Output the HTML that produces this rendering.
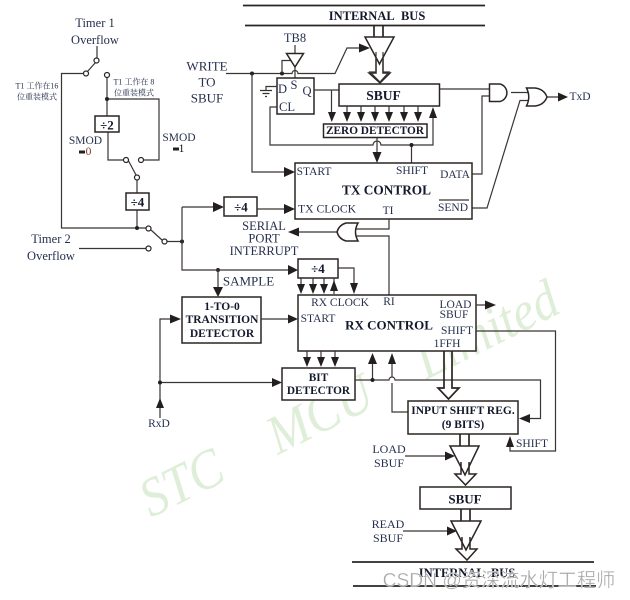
<!DOCTYPE html>
<html><head><meta charset="utf-8">
<style>
html,body{margin:0;padding:0;background:#fff;width:630px;height:600px;overflow:hidden}
svg{display:block}
text{font-family:"Liberation Serif","Noto Serif CJK SC",serif;font-size:11.5px;fill:#26304e;text-anchor:middle;dominant-baseline:central}
.b{font-weight:bold;font-size:11.5px;fill:#14182c}
.t{font-size:12.5px}
.c{font-size:8px;font-family:"Liberation Serif","Noto Serif CJK SC",serif}
.wm{font-size:55px;font-style:italic;fill:#dfeed8;text-anchor:start;dominant-baseline:auto}
.w{fill:none;stroke:#3a3432;stroke-width:1.2}
.k{fill:none;stroke:#2a2523;stroke-width:1.7}
.f{fill:#fff;stroke:#2a2523;stroke-width:1.5}
.o{fill:#fff;stroke:#2a2523;stroke-width:1.2}
.a{fill:#231f20}
</style></head><body>
<svg width="630" height="600" viewBox="0 0 630 600" xmlns="http://www.w3.org/2000/svg">
<!-- watermark -->
<text class="wm" transform="translate(151,518) rotate(-26.500) scale(.91,1)">STC</text>
<text class="wm" transform="translate(278,455) rotate(-26.500) scale(.91,1)">MCU</text>
<text class="wm" transform="translate(426,380) rotate(-26.500) scale(.91,1)">Limited</text>

<!-- top bus -->
<path class="k" d="M243 5.500H485M245 25.500H485"/>
<text class="b" x="377" y="16" style="font-size:12.500px">INTERNAL&#160;&#160;BUS</text>
<path class="k" d="M374 26V37M383 26V37"/>
<path class="f" d="M376 55V73H369L380 83L390 73H383V55"/>
<path class="f" d="M365 37H394L379.500 64Z"/>
<path class="w" d="M376 52V72H370L380 82L389 72H383V52"/>

<!-- left clock -->
<text class="t" x="95" y="23">Timer 1</text>
<text class="t" x="95" y="40">Overflow</text>
<text class="t" x="51" y="239">Timer 2</text>
<text class="t" x="51" y="256">Overflow</text>
<path class="w" d="M97 46V58M96 62L87 72M84 73.500H61.500V228H146M151 230L162 240M167 241.500H182M79 248.500H146"/>
<path class="w" d="M107 78V116M107 99H159V160H144M108 132V160H123M127 158L136 175M137 180V193M137 210V228"/>
<circle class="o" cx="96.500" cy="60.500" r="2.500"/><circle class="o" cx="86" cy="73.500" r="2.500"/>
<circle class="o" cx="107" cy="75" r="2.500"/><circle class="o" cx="141" cy="160" r="2.500"/>
<circle class="o" cx="126" cy="160" r="2.500"/><circle class="o" cx="137" cy="177.500" r="2.500"/>
<circle class="o" cx="148.500" cy="228.500" r="2.500"/><circle class="o" cx="164.500" cy="241.500" r="2.500"/>
<circle class="o" cx="148.500" cy="248.500" r="2.500"/>
<circle class="a" cx="107" cy="99" r="2"/><circle class="a" cx="137" cy="228" r="2"/><circle class="a" cx="182" cy="241.500" r="2"/><circle class="a" cx="218" cy="270" r="2"/>
<rect class="f" x="95" y="116" width="24" height="16"/>
<text class="b" x="107" y="125" style="font-size:13px">÷2</text>
<rect class="f" x="126" y="193" width="23" height="17"/>
<text class="b" x="137.500" y="202" style="font-size:13px">÷4</text>
<text class="c" x="37" y="86">T1 工作在16</text>
<text class="c" x="37" y="97">位重装模式</text>
<text class="c" x="134" y="82">T1 工作在 8</text>
<text class="c" x="134" y="93">位重装模式</text>
<text x="85.500" y="141">SMOD</text>
<rect class="a" x="79" y="150.500" width="6" height="3"/><text x="88.500" y="152" style="fill:#7a3a20">0</text>
<text x="179" y="138">SMOD</text>
<rect class="a" x="173" y="147.500" width="6" height="3"/><text x="181.500" y="149" style="fill:#111">1</text>

<path class="w" d="M182 207V270H288M182 207H215M218 270V287"/>
<path class="a" d="M213 202L224 207L213 212Z M288 265L298 270L288 275Z M213 287H223L218 297Z"/>
<rect class="f" x="224" y="197" width="33" height="19"/>
<text class="b" x="241" y="207" style="font-size:13px">÷4</text>
<text x="248.500" y="281" style="font-size:13px">SAMPLE</text>

<!-- write -->
<text x="207" y="66" style="font-size:13px">WRITE</text><text x="207" y="82" style="font-size:13px">TO</text><text x="207" y="98" style="font-size:13px">SBUF</text>
<path class="w" d="M226 73.500H292A3 3 0 0 1 298 73.500H335L347 48H360"/>
<path class="a" d="M359 43.500L370 48L359 52.500Z"/>
<circle class="a" cx="252" cy="73.500" r="2"/><circle class="a" cx="282" cy="73.500" r="2"/>
<path class="w" d="M282 73.500V60.500H291M295 45V53M295 67V78M252 73.500V172H284"/>
<path class="a" d="M284 167L295 172L284 177Z"/>
<text class="t" x="295" y="38">TB8</text>
<path class="f" d="M286.500 53.500H303.500L295 67Z"/>
<!-- flip-flop -->
<rect class="f" x="277" y="78" width="37" height="36"/>
<text class="t" x="282.500" y="89">D</text><text class="t" x="294" y="85">S</text><text class="t" x="307" y="91">Q</text><text class="t" x="287" y="107">CL</text>
<path class="w" d="M277 86.500H266V90M260 90.500H272M262.500 93.500H269.500M265 96.500H267M277 107H270V145H373A4 4 0 0 1 381 145H433V118M411.500 145V163M314 90H339M331.500 90V113M377 137V153"/>
<path class="a" d="M328 112H336L331.700 122Z M372.500 152H381.500L377 163Z M429 118H437L433 107Z"/>
<circle class="a" cx="411.500" cy="145" r="2"/>
<rect class="f" x="339" y="84" width="100.500" height="22"/>
<text class="b" x="383.500" y="95.500" style="font-size:13.500px">SBUF</text>
<path class="w" d="M347 106V113M361 106V113M375 106V113M389 106V113M404 106V113M418 106V113"/>
<path class="a" d="M343 112H351L347 122Z M357 112H365L361 122Z M371 112H379L375 122Z M385 112H393L389 122Z M400 112H408L404 122Z M414 112H422L418 122Z"/>
<rect class="f" x="323.500" y="124" width="103.500" height="13.500"/>
<text class="b" x="375" y="131" style="font-size:11.300px">ZERO DETECTOR</text>

<!-- gates -->
<path class="w" d="M439.500 89H489M472 174H482V96H489M472 208H487L520 100.500H529M511 92.500H528M547 97H558"/>
<path class="f" d="M489.500 84H500A9 9 0 0 1 500 101.500H489.500Z"/>
<path class="f" d="M526.500 88H535Q544 89 547 97Q544 105 535 106H526.500Q531 97 526.500 88Z"/>
<path class="a" d="M558 92.500L568 97L558 101.500Z"/>
<text x="580" y="97">TxD</text>

<!-- TX control -->
<rect class="f" x="295" y="163" width="177" height="56"/>
<text x="314" y="172">START</text><text x="412" y="171">SHIFT</text><text x="455" y="175">DATA</text><text x="453" y="208">SEND</text>
<path class="w" d="M439 200H469"/>
<text class="b" x="386.500" y="190" style="font-size:13.300px">TX CONTROL</text>
<text x="327" y="209" style="font-size:11.700px">TX CLOCK</text><text x="388" y="211">TI</text>
<path class="w" d="M257 209H284M389 219V229H356M356 236H389V295M337 232H299"/>
<path class="a" d="M284 204L295 209L284 214Z M299 227.500L288 232L299 236.500Z"/>
<path class="f" d="M358 223H346Q339 225 337 232Q339 239 346 241H358Q353 232 358 223Z"/>
<text x="264" y="226" style="font-size:12.500px">SERIAL</text><text x="264" y="238.500" style="font-size:12.500px">PORT</text><text x="264" y="251" style="font-size:12.500px">INTERRUPT</text>

<!-- ÷4 rx -->
<rect class="f" x="298" y="259" width="40" height="19"/>
<text class="b" x="318" y="268.500" style="font-size:13px">÷4</text>
<path class="w" d="M301 278V284M313 278V284M324 278V284M334 278V294M338 268H354V284"/>
<path class="a" d="M297 284H305L301 294Z M309 284H317L313 294Z M320 284H328L324 294Z M330 291H338L334 280Z M350 283H358L354 294Z"/>

<!-- 1-to-0 -->
<rect class="f" x="182" y="297" width="79" height="46"/>
<text class="b" x="222" y="307">1-TO-0</text><text class="b" x="222" y="320">TRANSITION</text><text class="b" x="222" y="334">DETECTOR</text>
<path class="w" d="M261 319H288M160 418V319H172M160 382.500H272"/>
<path class="a" d="M288 314.500L298 319L288 323.500Z M170 314.500L181 319L170 323.500Z M272 378L282 382.500L272 387Z M156 408L160 398L164 408Z"/>
<circle class="a" cx="160" cy="382.500" r="2"/>
<text x="159" y="424">RxD</text>

<!-- RX control -->
<rect class="f" x="298" y="295" width="178" height="56"/>
<text x="340" y="303">RX CLOCK</text><text x="389" y="302">RI</text>
<text x="318" y="319">START</text>
<text class="b" x="389" y="325" style="font-size:13px">RX CONTROL</text>
<text x="455.500" y="305">LOAD</text><text x="454" y="315">SBUF</text><text x="457" y="331">SHIFT</text><text x="447" y="344">1FFH</text>
<path class="w" d="M476 305H486M476 331H555.500V451H510V446"/>
<path class="a" d="M485 300.500L496 305L485 309.500Z M506 447L510 436L514 447Z"/>
<text x="532" y="444">SHIFT</text>

<!-- bit detector -->
<path class="w" d="M307 351V358M321 351V358M335 351V358"/>
<path class="a" d="M303 357H311L307 367Z M317 357H325L321 367Z M331 357H339L335 367Z"/>
<rect class="f" x="282" y="368" width="73" height="32"/>
<text class="b" x="318.500" y="378" style="font-size:11.300px">BIT</text><text class="b" x="318.500" y="391" style="font-size:11.300px">DETECTOR</text>
<path class="w" d="M355 380H389A3 3 0 0 1 395 380H540.500V418.500H529M372.500 380V363M392 363V377M392 383V412H408"/>
<circle class="a" cx="372.500" cy="380" r="2"/>
<path class="a" d="M368 364L372.500 353L377 364Z M388 364L392 353L396 364Z M530 414L519 418.500L530 423Z"/>

<!-- input shift -->
<path class="k" d="M444 351V388H438L448.500 399L459 388H452V351" fill="#fff"/>
<rect class="f" x="408" y="401" width="110" height="33"/>
<text class="b" x="463" y="411">INPUT SHIFT REG.</text><text class="b" x="463" y="425">(9 BITS)</text>

<!-- lower buffers -->
<path class="k" d="M460 434V446M469 434V446"/>
<path class="f" d="M461 462V474H455L465.500 485L476 474H469V462"/>
<path class="f" d="M450 446H479L465 475Z" style="fill:none"/>
<text x="389" y="449" style="font-size:12px">LOAD</text><text x="389" y="463" style="font-size:12px">SBUF</text>
<path class="w" d="M405 456H445M403 531H447"/>
<path class="a" d="M445 451.500L455 456L445 460.500Z M447 526.500L457 531L447 535.500Z"/>
<rect class="f" x="420" y="487" width="91" height="22"/>
<text class="b" x="465" y="499" style="font-size:13px">SBUF</text>
<path class="k" d="M461 509V521M470 509V521"/>
<path class="f" d="M462 537V549H456L467 560L477 549H470V537"/>
<path class="f" d="M451 521H481L466 550Z" style="fill:none"/>
<text x="388" y="524" style="font-size:12px">READ</text><text x="388" y="538" style="font-size:12px">SBUF</text>

<!-- bottom bus -->
<path class="k" d="M352 562H594M353 586H596"/>
<text class="b" x="467" y="573" style="font-size:12.500px">INTERNAL&#160;&#160;BUS</text>
<!-- csdn mark -->
<text x="499" y="581" style="font-family:'Liberation Sans','Noto Sans CJK SC',sans-serif;font-size:19.200px;fill:#a8a8a8;stroke:#fff;stroke-width:.3">CSDN @资深流水灯工程师</text>
</svg>
</body></html>
